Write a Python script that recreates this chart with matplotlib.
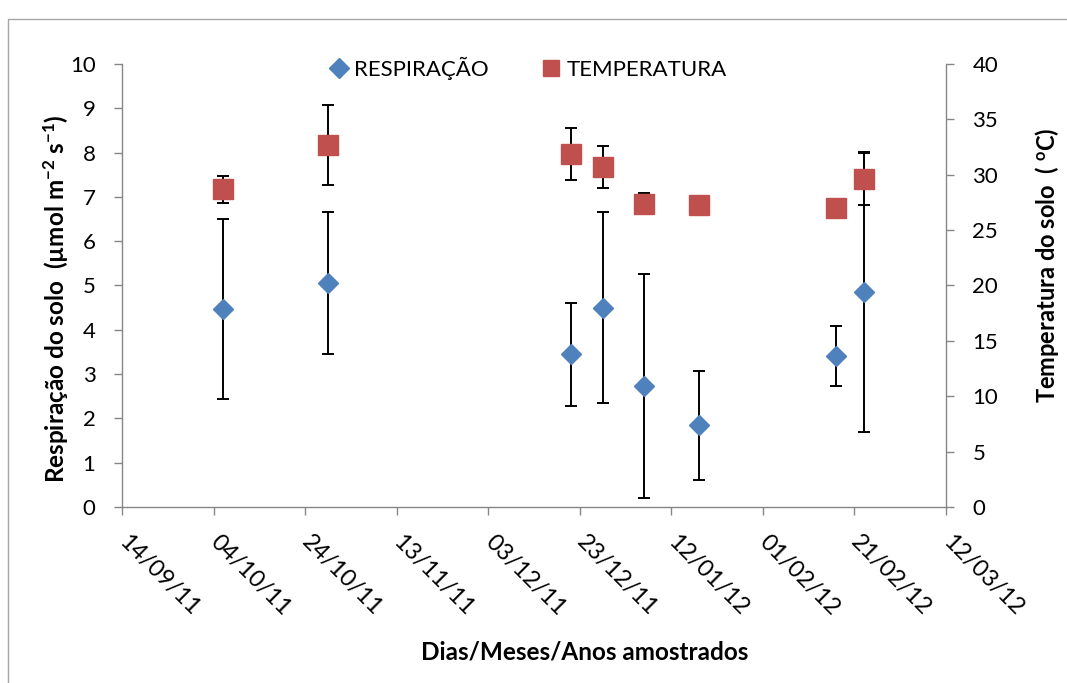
import matplotlib
matplotlib.use('Agg')
import matplotlib.pyplot as plt
import matplotlib.dates as mdates
from matplotlib.lines import Line2D
from matplotlib.patches import Rectangle
import pandas as pd

plt.rcParams['font.family'] = ['Lato', 'DejaVu Sans']
plt.rcParams['mathtext.fontset'] = 'custom'
plt.rcParams['mathtext.rm'] = 'Lato'
plt.rcParams['mathtext.bf'] = 'Lato:bold'
plt.rcParams['mathtext.it'] = 'Lato:italic'

# datas das coletas
datas = pd.to_datetime(['2011-10-06', '2011-10-29', '2011-12-21', '2011-12-28',
                        '2012-01-06', '2012-01-18', '2012-02-17', '2012-02-23'])
respiracao = [4.47, 5.05, 3.45, 4.50, 2.73, 1.84, 3.40, 4.86]
resp_erro = [2.03, 1.60, 1.16, 2.16, 2.52, 1.23, 0.68, 3.16]
temperatura = [28.7, 32.7, 31.9, 30.7, 27.4, 27.3, 27.0, 29.6]
temp_erro = [1.22, 3.61, 2.35, 1.94, 0.95, 0.40, 0.30, 2.35]

x_ticks = pd.date_range('2011-09-14', '2012-03-12', freq='20D')

azul = '#4F81BD'
vermelho = '#C0504D'
cinza = '#868686'

fig = plt.figure(figsize=(10.67, 6.83), dpi=100)
ax = fig.add_axes([0.1143, 0.2577, 0.7723, 0.6486])
ax2 = ax.twinx()

ax.errorbar(datas, respiracao, yerr=resp_erro, fmt='D', color=azul, ms=10,
            ecolor='black', elinewidth=1.4, capsize=4.2, capthick=1.4, zorder=3)
ax2.errorbar(datas, temperatura, yerr=temp_erro, fmt='s', color=vermelho, ms=14.4,
             ecolor='black', elinewidth=1.4, capsize=4.2, capthick=1.4, zorder=3)

ax.set_xlim(x_ticks[0], x_ticks[-1])
ax.set_xticks(x_ticks)
ax.xaxis.set_major_formatter(mdates.DateFormatter('%d/%m/%y'))
ax.set_ylim(0, 10)
ax.set_yticks(range(0, 11))
ax2.set_ylim(0, 40)
ax2.set_yticks(range(0, 41, 5))

for a in (ax, ax2):
    a.spines['top'].set_visible(False)
    for s in a.spines.values():
        s.set_color(cinza)
        s.set_linewidth(1)
    a.tick_params(length=6, width=1, color=cinza, labelsize=16, pad=13)
ax.spines['right'].set_visible(False)
ax2.spines['left'].set_visible(False)
ax2.spines['bottom'].set_visible(False)

ax.tick_params(axis='x', labelsize=17, pad=17)
plt.setp(ax.get_xticklabels(), rotation=-45, ha='left', va='center',
         rotation_mode='anchor')

ax.set_ylabel('Respiração do solo  (µmol m$^{\\mathbf{-2}}$ s$^{\\mathbf{-1}}$)',
              fontsize=17.5, fontweight='bold', va='center')
ax.yaxis.set_label_coords(-0.081, 0.47)
ax2.set_ylabel('Temperatura do solo  ( $^{\\mathbf{o}}$C)',
               fontsize=17, fontweight='bold', va='center', rotation=90)
ax2.yaxis.set_label_coords(1.1226, 0.546)
ax.set_xlabel('Dias/Meses/Anos amostrados', fontsize=17.5, fontweight='bold',
              va='center')
ax.xaxis.set_label_coords(0.561, -0.327)

handles = [Line2D([], [], marker='D', color=azul, ls='none', ms=10),
           Line2D([], [], marker='s', color=vermelho, ls='none', ms=12)]
ax2.legend(handles, ['RESPIRAÇÃO', 'TEMPERATURA'], loc='center', ncol=2,
           bbox_to_anchor=(0.492, 0.991), frameon=False, fontsize=16,
           handlelength=1.0, handletextpad=0.2, columnspacing=2.3)

# moldura da área do gráfico
fig.patches.append(Rectangle((8 / 1067, -0.05), 1.2, 1.05 - 19 / 683,
                             transform=fig.transFigure, fill=False,
                             edgecolor='#A6A6A6', linewidth=1))

fig.savefig('out.png', dpi=100)
